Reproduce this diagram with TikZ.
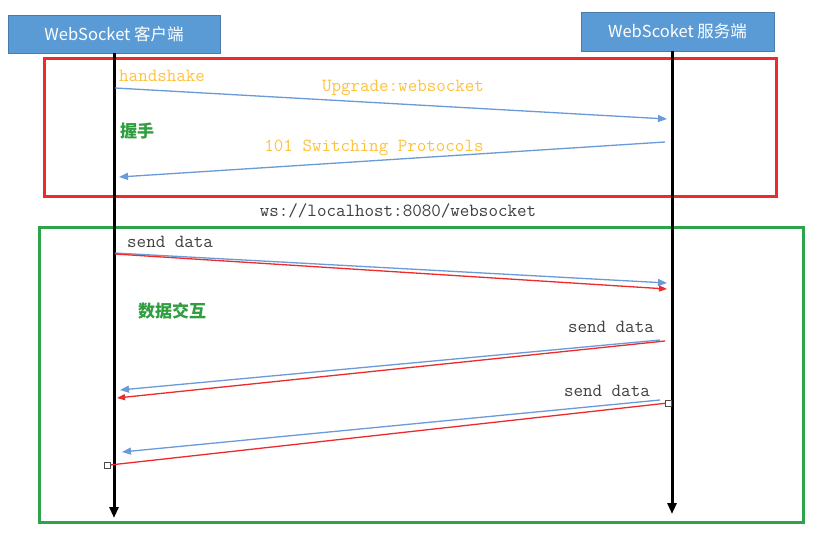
\documentclass[tikz,border=0pt]{standalone}
\usepackage{fontspec}
\setmainfont{Liberation Sans}
\newfontfamily\cjk{Noto Sans CJK SC}
\newfontfamily\mono{Latin Modern Mono}
\usetikzlibrary{arrows.meta}
\definecolor{boxblue}{HTML}{5B9BD5}
\definecolor{arrblue}{HTML}{6A9BD8}
\definecolor{hsred}{HTML}{EE2A2A}
\definecolor{dgreen}{HTML}{2EA34B}
\definecolor{lblorange}{HTML}{FFC23C}
\definecolor{lblgray}{HTML}{404040}
\definecolor{txtgreen}{HTML}{2E9E3E}
\begin{document}
\begin{tikzpicture}[x=1pt,y=-1pt,
  titlebox/.style={fill=boxblue, draw=boxblue!80!black, line width=0.5pt, text=white, font=\cjk\fontsize{16.5}{19}\selectfont, inner sep=0pt},
  frame/.style={line width=3pt, inner sep=0pt},
  lifeline/.style={line width=3pt, -{Triangle[length=11pt,width=9pt]}},
  msgblue/.style={draw=arrblue, line width=1.3pt, -{Triangle[length=9pt,width=7pt]}},
  msgred/.style={draw=hsred, line width=1.3pt, -{Triangle[length=8pt,width=6pt]}},
  monoorange/.style={text=lblorange, font=\mono\bfseries\fontsize{18.5}{20}\selectfont, inner sep=0pt},
  monogray/.style={text=lblgray, font=\mono\fontsize{18.5}{20}\selectfont, inner sep=0pt},
  cnlabel/.style={text=txtgreen, font=\cjk\bfseries\fontsize{17}{20}\selectfont, inner sep=0pt},
  handle/.style={draw=black!70, fill=white, line width=0.6pt, minimum size=6pt, inner sep=0pt}
]
\useasboundingbox (0,0) rectangle (817,533);
\fill[white] (0,0) rectangle (817,533);

% frames
\node[frame, draw=hsred, minimum width=732pt, minimum height=138pt] (hsframe) at (410,127) {};
\node[frame, draw=dgreen, minimum width=764pt, minimum height=295pt] (dataframe) at (421,374.5) {};

% participant boxes
\node[titlebox, minimum width=212pt, minimum height=38pt] (client) at (114,34) {WebSocket 客户端};
\node[titlebox, minimum width=193pt, minimum height=39pt] (server) at (677.5,31.5) {WebScoket 服务端};

% lifelines
\coordinate (cEnd) at (114,518);
\coordinate (sEnd) at (672,514);
\draw[lifeline] (client.south) -- (cEnd);
\draw[lifeline] (server.south -| sEnd) -- (sEnd);

% handshake messages
\coordinate (m1s) at (115,88);
\coordinate (m1e) at (667,119);
\coordinate (m2s) at (665,142);
\coordinate (m2e) at (119,177);
\draw[msgblue] (m1s) -- (m1e);
\draw[msgblue] (m2s) -- (m2e);

\node[monoorange, anchor=west] (lhs) at (119,76) {handshake};
\node[monoorange] (lup) at (403,88) {Upgrade:websocket};
\node[monoorange] (lsw) at (374,148) {101 Switching Protocols};
\node[cnlabel, anchor=west] (lwo) at (120,131) {握手};
\node[monogray] (lurl) at (398,211) {ws://localhost:8080/websocket};

% data messages
\coordinate (d1s) at (115,253);
\coordinate (d1e) at (667,283);
\coordinate (d1rs) at (115,254);
\coordinate (d1re) at (667,289);
\draw[msgblue] (d1s) -- (d1e);
\draw[msgred] (d1rs) -- (d1re);

\coordinate (d2s) at (660,340);
\coordinate (d2e) at (120,390);
\coordinate (d2rs) at (665,341);
\coordinate (d2re) at (117,398);
\draw[msgblue] (d2s) -- (d2e);
\draw[msgred] (d2rs) -- (d2re);

\coordinate (d3s) at (660,400);
\coordinate (d3e) at (122,452);
\coordinate (d3rs) at (668,403);
\coordinate (d3re) at (110,465);
\draw[msgblue] (d3s) -- (d3e);
\draw[draw=hsred, line width=1.3pt] (d3rs) -- (d3re);
\node[handle] (h1) at (d3rs) {};
\node[handle] (h2) at (107,465) {};

\node[monogray, anchor=west] (ls1) at (127,242) {send data};
\node[monogray, anchor=east] (ls2) at (654,327) {send data};
\node[monogray, anchor=east] (ls3) at (650,391) {send data};
\node[cnlabel, anchor=west] (lsj) at (138,311) {数据交互};
\end{tikzpicture}
\end{document}
